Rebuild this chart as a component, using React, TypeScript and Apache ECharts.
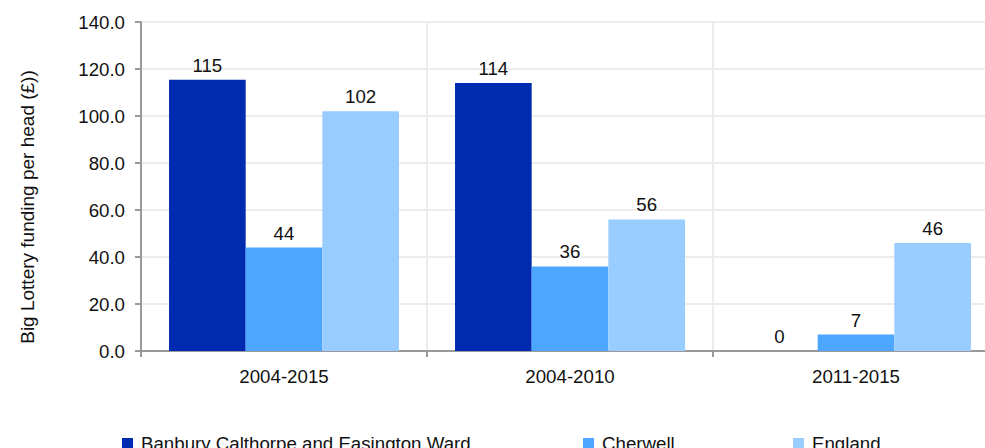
import React, { useEffect, useRef } from "react";
import * as echarts from "echarts";

const categories = ["2004-2015", "2004-2010", "2011-2015"];
const seriesNames = ["Banbury Calthorpe and Easington Ward", "Cherwell", "England"];
const banburyValues = [115.4, 114.0, 0];
const cherwellValues = [44, 36, 7];
const englandValues = [102, 56, 46];
const yTicks = { min: 0, max: 140, interval: 20 };
const colors = ["#002bb0", "#4da6ff", "#99ccff"];
const legendLefts = [117, 578, 788];

const FONT = "'Liberation Sans', Arial, sans-serif";
const TEXT = "#111111";
const FS = 18.7;

export default function App() {
  const ref = useRef<HTMLDivElement>(null);
  useEffect(() => {
    if (!ref.current) return;
    const chart = echarts.init(ref.current, null, { renderer: "svg" });
    const values = [banburyValues, cherwellValues, englandValues];
    chart.setOption({
      animation: false,
      backgroundColor: "#ffffff",
      textStyle: { fontFamily: FONT, color: TEXT },
      grid: {
        left: 141,
        top: 22,
        width: 858,
        height: 329,
        containLabel: false,
        outerBoundsMode: "none",
      },
      legend: seriesNames.map((n, i) => ({
        data: [n],
        left: legendLefts[i],
        top: 429,
        itemWidth: 11,
        itemHeight: 11,
        icon: "rect",
        textStyle: { fontFamily: FONT, fontSize: FS, color: TEXT, padding: [0, 0, 0, 3] },
      })),
      xAxis: {
        type: "category",
        data: categories,
        axisLine: { show: true, lineStyle: { color: "#9a9a9a", width: 2 } },
        axisTick: { show: true, length: 6, lineStyle: { color: "#9a9a9a", width: 2 } },
        axisLabel: { fontFamily: FONT, fontSize: FS, color: TEXT, margin: 16 },
        splitLine: { show: true, lineStyle: { color: "#ececec", width: 2 } },
      },
      yAxis: {
        type: "value",
        min: yTicks.min,
        max: yTicks.max,
        interval: yTicks.interval,
        axisLine: { show: true, lineStyle: { color: "#9a9a9a", width: 2 } },
        axisTick: { show: true, length: 6, lineStyle: { color: "#9a9a9a", width: 2 } },
        axisLabel: {
          fontFamily: FONT,
          fontSize: FS,
          color: TEXT,
          margin: 16,
          formatter: (v: number) => v.toFixed(1),
        },
        splitLine: { show: true, lineStyle: { color: "#ececec", width: 2 } },
      },
      graphic: [
        {
          type: "text",
          x: 27,
          y: 207,
          rotation: Math.PI / 2,
          style: {
            text: "Big Lottery funding per head (£))",
            fontFamily: FONT,
            fontSize: 19,
            fill: TEXT,
            textAlign: "center",
            textVerticalAlign: "middle",
          },
        },
      ],
      series: seriesNames.map((n, i) => ({
        name: n,
        type: "bar",
        data: values[i],
        barGap: "0%",
        barCategoryGap: "19.6%",
        itemStyle: { color: colors[i] },
        label: {
          show: true,
          position: "top",
          distance: 5,
          fontFamily: FONT,
          fontSize: FS,
          color: TEXT,
          formatter: (p: any) => String(Math.round(p.value)),
        },
      })),
    });
    return () => chart.dispose();
  }, []);
  return <div ref={ref} style={{ width: 985, height: 448, position: "absolute", left: 0, top: 0 }} />;
}
